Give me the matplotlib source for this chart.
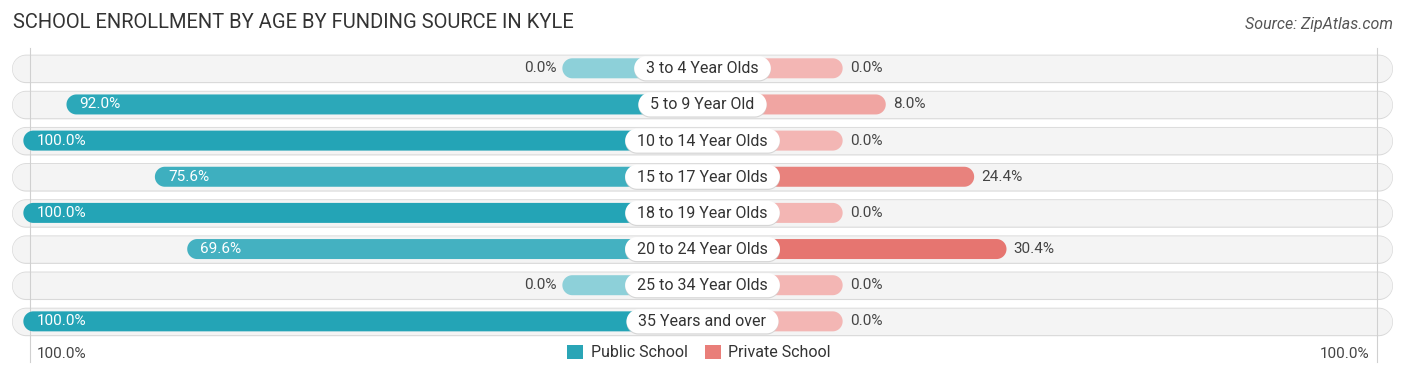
import matplotlib
matplotlib.use("Agg")
import matplotlib.pyplot as plt
from matplotlib.patches import Polygon, Patch
import numpy as np

categories = ["3 to 4 Year Olds", "5 to 9 Year Old", "10 to 14 Year Olds", "15 to 17 Year Olds",
              "18 to 19 Year Olds", "20 to 24 Year Olds", "25 to 34 Year Olds", "35 Years and over"]
public_vals = [0.0, 92.0, 100.0, 75.6, 100.0, 69.6, 0.0, 100.0]
private_vals = [0.0, 8.0, 0.0, 24.4, 0.0, 30.4, 0.0, 0.0]
series_names = ["Public School", "Private School"]
axis_label = "100.0%"
title = "SCHOOL ENROLLMENT BY AGE BY FUNDING SOURCE IN KYLE"
source = "Source: ZipAtlas.com"

W, H = 1406, 377
FONT = ["Roboto", "DejaVu Sans"]
plt.rcParams["font.family"] = FONT

fig = plt.figure(figsize=(W / 100, H / 100), dpi=100)
ax = fig.add_axes([0, 0, 1, 1])
ax.set_axis_off()

PX_X = 5.39          # pixels per percent unit
CX = 702.5           # center pixel
ROW0, ROWSTEP = 68.3, 36.15
ax.set_xlim(-CX / PX_X, (W - CX) / PX_X)
ax.set_ylim((H - ROW0) / ROWSTEP, -ROW0 / ROWSTEP)

OFFSET = 26.0        # bar base length hidden under the label
def px2x(p):
    return p / PX_X
def px2y(p):
    return p / ROWSTEP

def pill(x0, x1, yc, hpx, **kw):
    rx = px2x(hpx / 2)
    ry = px2y(hpx / 2)
    rx = min(rx, (x1 - x0) / 2)
    th = np.linspace(-np.pi / 2, np.pi / 2, 40)
    right = np.column_stack([x1 - rx + rx * np.cos(th), yc + ry * np.sin(th)])
    th2 = np.linspace(np.pi / 2, 3 * np.pi / 2, 40)
    left = np.column_stack([x0 + rx + rx * np.cos(th2), yc + ry * np.sin(th2)])
    pts = np.vstack([right, left])
    p = Polygon(pts, closed=True, **kw)
    ax.add_patch(p)
    return p

def blend(c0, c1, t):
    c0 = np.array(matplotlib.colors.to_rgb(c0))
    c1 = np.array(matplotlib.colors.to_rgb(c1))
    t = min(max(t, 0), 1)
    return tuple(c0 + (c1 - c0) * t)

PUB_LIGHT, PUB_DARK = "#8dd0d9", "#24a4b6"
PRI_LIGHT, PRI_DARK = "#f3b6b4", "#e5726c"

n = len(categories)
bg_half = px2x(690.5)
for i in range(n):
    pill(-bg_half, bg_half, i + px2y(0.6), 28.5, facecolor="#d9d9d9", edgecolor="none", zorder=1)
    pill(-bg_half + px2x(0.6), bg_half - px2x(0.6), i + px2y(0.5), 26.5, facecolor="#f4f4f4",
         edgecolor="none", zorder=1.1)

# vertical guide lines
for xp in (30, 1376.7):
    ax.plot([px2x(xp - CX)] * 2, [px2y(48 - ROW0), px2y(362 - ROW0)],
            color="#d0d0d0", lw=0.8, zorder=1.5)

fig.canvas.draw()
renderer = fig.canvas.get_renderer()

VFS = 11
for i, (cat, pv, rv) in enumerate(zip(categories, public_vals, private_vals)):
    left = -(OFFSET + pv)
    pill(left, 0, i, 20, facecolor=blend(PUB_LIGHT, PUB_DARK, pv / 100), edgecolor="none", zorder=2)
    right = OFFSET + rv
    pill(0, right, i, 20, facecolor=blend(PRI_LIGHT, PRI_DARK, rv / 32), edgecolor="none", zorder=2)

    if pv > 50:
        ax.text(left + px2x(13), i, f"{pv:.1f}%", ha="left", va="center", color="white",
                fontsize=VFS, zorder=5)
    else:
        ax.text(left - px2x(6), i, f"{pv:.1f}%", ha="right", va="center", color="#444444",
                fontsize=VFS, zorder=5)
    if rv > 50:
        ax.text(right - px2x(13), i, f"{rv:.1f}%", ha="right", va="center", color="white",
                fontsize=VFS, zorder=5)
    else:
        ax.text(right + px2x(7), i, f"{rv:.1f}%", ha="left", va="center", color="#444444",
                fontsize=VFS, zorder=5)

    t = ax.text(0, i + px2y(0.5), cat, ha="center", va="center", color="#333333",
                fontsize=11.5, zorder=7)
    bb = t.get_window_extent(renderer=renderer)
    half = px2x(bb.width / 2 + 12)
    pill(-half, half, i + px2y(1.2), 24, facecolor="#cfcfcf", edgecolor="none", zorder=5.5, alpha=0.8)
    pill(-half, half, i, 24, facecolor="white", edgecolor="none", zorder=6)

# bottom axis labels
yb = px2y(353.5 - ROW0)
ax.text(px2x(37 - CX), yb, axis_label, ha="left", va="center", color="#444444", fontsize=11)
ax.text(px2x(1369 - CX), yb, axis_label, ha="right", va="center", color="#444444", fontsize=11)

# legend
handles = [Patch(facecolor="#2aa5b6", edgecolor="none"), Patch(facecolor="#e97e79", edgecolor="none")]
leg = ax.legend(handles, series_names, loc="center", bbox_to_anchor=(699 / W, 1 - 352.5 / H),
                ncol=2, frameon=False, fontsize=11.5, handlelength=1.0, handleheight=1.05,
                handletextpad=0.45, columnspacing=1.1, borderaxespad=0, borderpad=0)
for txt in leg.get_texts():
    txt.set_color("#333333")

# title and source
fig.text(13 / W, 1 - 22 / H, title, ha="left", va="center", fontsize=14.5, color="#333333")
fig.text(1393 / W, 1 - 24 / H, source, ha="right", va="center", fontsize=11.5, color="#555555",
         style="italic")

fig.savefig("out.png", dpi=100)
